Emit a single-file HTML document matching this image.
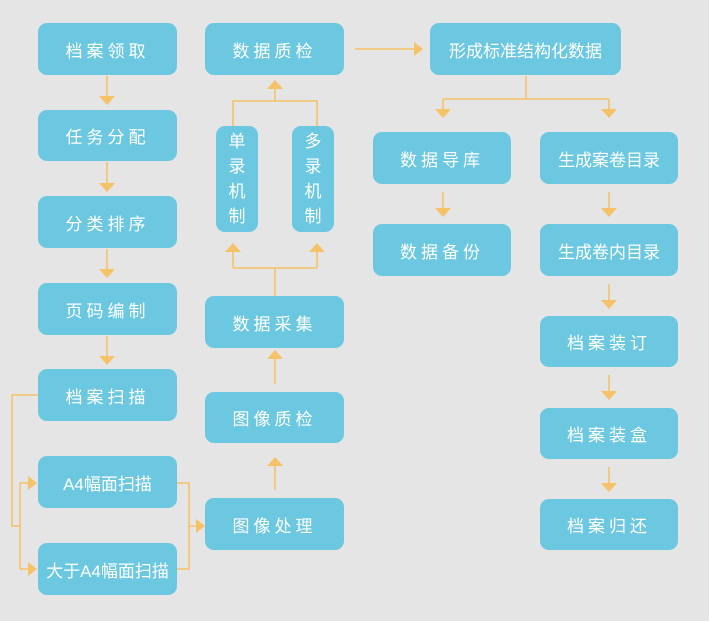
<!DOCTYPE html>
<html><head><meta charset="utf-8"><style>
body{margin:0;width:709px;height:621px;background:#e5e5e5;position:relative;overflow:hidden;font-family:"Liberation Sans","Noto Sans CJK SC",sans-serif}
.b{position:absolute;background:#6cc8e0;border-radius:9px;color:#fff;font-size:17px;display:flex;align-items:center;justify-content:center;letter-spacing:4px}
.t{letter-spacing:0}
.v{flex-direction:column;line-height:25px;letter-spacing:0;font-size:17px}
svg{position:absolute;left:0;top:0}
</style></head><body>
<svg width="709" height="621" stroke="#f5c267" stroke-width="1.6" fill="none">
<path d="M107 76V96M107 162V183M107 249V269M107 336V356"/>
<path d="M12 395H38M12 395V526H20M20 483V569M20 483H28M20 569H28"/>
<path d="M177 483H189V569H177M189 526H196"/>
<path d="M275 490V466M275 384V359M275 296V268M233 268H317M233 268V252M317 268V252M233 126V101H317V126M275 101V89"/>
<path d="M355 49H414M526 76V99M443 99H609M443 99V109M609 99V109"/>
<path d="M443 192V208M609 192V208M609 284V300M609 375V391M609 467V483"/>
<g fill="#f5c267" stroke="none">
<polygon points="99,96 115,96 107,105"/><polygon points="99,183 115,183 107,192"/><polygon points="99,269 115,269 107,278"/><polygon points="99,356 115,356 107,365"/>
<polygon points="28,476 28,490 37,483"/><polygon points="28,562 28,576 37,569"/><polygon points="196,519 196,533 205,526"/>
<polygon points="267,466 283,466 275,457"/><polygon points="267,359 283,359 275,350"/><polygon points="225,252 241,252 233,243"/><polygon points="309,252 325,252 317,243"/><polygon points="267,89 283,89 275,80"/>
<polygon points="414,42 414,56 423,49"/>
<polygon points="435,109 451,109 443,118"/><polygon points="601,109 617,109 609,118"/>
<polygon points="435,208 451,208 443,217"/><polygon points="601,208 617,208 609,217"/><polygon points="601,300 617,300 609,309"/><polygon points="601,391 617,391 609,400"/><polygon points="601,483 617,483 609,492"/>
</g>
</svg>
<div class="b" style="left:38px;top:23px;width:139px;height:52px">档案领取</div>
<div class="b" style="left:38px;top:110px;width:139px;height:51px">任务分配</div>
<div class="b" style="left:38px;top:196px;width:139px;height:52px">分类排序</div>
<div class="b" style="left:38px;top:283px;width:139px;height:52px">页码编制</div>
<div class="b" style="left:38px;top:369px;width:139px;height:52px">档案扫描</div>
<div class="b t" style="left:38px;top:456px;width:139px;height:52px">A4幅面扫描</div>
<div class="b t" style="left:38px;top:543px;width:139px;height:52px">大于A4幅面扫描</div>
<div class="b" style="left:205px;top:23px;width:139px;height:52px">数据质检</div>
<div class="b v" style="left:216px;top:126px;width:42px;height:106px">单<br>录<br>机<br>制</div>
<div class="b v" style="left:292px;top:126px;width:42px;height:106px">多<br>录<br>机<br>制</div>
<div class="b" style="left:205px;top:296px;width:139px;height:52px">数据采集</div>
<div class="b" style="left:205px;top:392px;width:139px;height:51px">图像质检</div>
<div class="b" style="left:205px;top:498px;width:139px;height:52px">图像处理</div>
<div class="b t" style="left:430px;top:23px;width:191px;height:52px">形成标准结构化数据</div>
<div class="b" style="left:373px;top:132px;width:138px;height:52px">数据导库</div>
<div class="b" style="left:373px;top:224px;width:138px;height:52px">数据备份</div>
<div class="b t" style="left:540px;top:132px;width:138px;height:52px">生成案卷目录</div>
<div class="b t" style="left:540px;top:224px;width:138px;height:52px">生成卷内目录</div>
<div class="b" style="left:540px;top:316px;width:138px;height:51px">档案装订</div>
<div class="b" style="left:540px;top:408px;width:138px;height:51px">档案装盒</div>
<div class="b" style="left:540px;top:499px;width:138px;height:51px">档案归还</div>
</body></html>
